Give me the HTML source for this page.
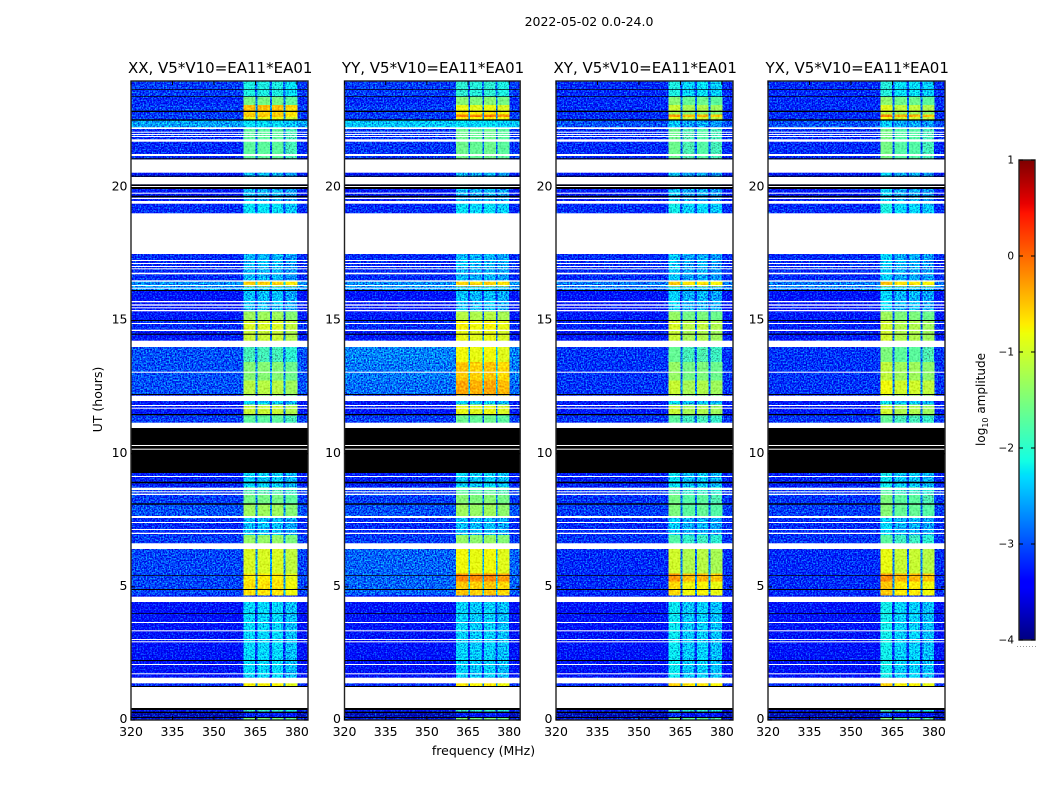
<!DOCTYPE html>
<html lang="en">
<head>
<meta charset="utf-8">
<title>2022-05-02 amplitude waterfall</title>
<style>
html,body{margin:0;padding:0;background:#fff;width:1050px;height:800px;overflow:hidden}
svg{display:block}
text{font-family:"DejaVu Sans","Liberation Sans",sans-serif;fill:#000}
</style>
</head>
<body>
<svg id="fig" xmlns="http://www.w3.org/2000/svg" width="1050" height="800" viewBox="0 0 1050 800">
  <defs>
    <filter id="speckle" x="0" y="0" width="100%" height="100%" color-interpolation-filters="sRGB">
      <feTurbulence type="fractalNoise" baseFrequency="0.65" numOctaves="2" seed="7" result="noise"/>
      <feColorMatrix in="noise" type="matrix" values="0 0 0 0.25 0.375  0 0 0 1.8 -0.4  0 0 0 0.7 0.15  0 0 0 0 1" result="grey"/>
      <feComposite in="SourceGraphic" in2="grey" operator="arithmetic" k1="0" k2="1" k3="1" k4="-0.5" result="mix"/>
      <feComposite in="mix" in2="SourceAlpha" operator="in"/>
    </filter>
    <filter id="speckle-soft" x="0" y="0" width="100%" height="100%" color-interpolation-filters="sRGB">
      <feTurbulence type="fractalNoise" baseFrequency="0.5" numOctaves="2" seed="11" result="noise"/>
      <feColorMatrix in="noise" type="matrix" values="0 0 0 0.3 0.35  0 0 0 0.6 0.2  0 0 0 0.3 0.35  0 0 0 0 1" result="grey"/>
      <feComposite in="SourceGraphic" in2="grey" operator="arithmetic" k1="0" k2="1" k3="1" k4="-0.5" result="mix"/>
      <feComposite in="mix" in2="SourceAlpha" operator="in"/>
    </filter>
  </defs>
  <text x="589" y="26" font-size="12.5" text-anchor="middle">2022-05-02 0.0-24.0</text>
  <text x="483.5" y="755" font-size="12.5" text-anchor="middle">frequency (MHz)</text>
  <text x="0" y="0" font-size="12.5" text-anchor="middle" transform="translate(102 399.5) rotate(-90)">UT (hours)</text>
  <text x="0" y="0" font-size="12" text-anchor="middle" transform="translate(985 399.5) rotate(-90)">log<tspan font-size="8" dy="3">10</tspan><tspan dy="-3"> amplitude</tspan></text>
  <g id="panels"></g>
  <g id="colorbar"></g>
</svg>
<script>
/* ---- axis values ---- */
const freqLimits = [320, 384];
const hourLimits = [0, 24];
const freqTicks = [320, 335, 350, 365, 380];
const hourTicks = [0, 5, 10, 15, 20];
const colorLimits = [-4, 1];
const colorTicks = [-4, -3, -2, -1, 0, 1];
const colorTickLabels = ['\u22124', '\u22123', '\u22122', '\u22121', '0', '1'];

/* ---- frequency channels (MHz) ---- */
const channelEdges = [320, 360.6, 364.9, 365.7, 370.1, 370.9, 375.0, 375.8, 380.0, 384];
const channelKinds = ['bg', 'sb0', 'gap', 'sb1', 'gap', 'sb2', 'gap', 'sb3', 'bg'];

/* ---- time bands (UT hours, upper edges then 0) ---- */
const bandEdges = [24, 23.4, 23.1, 22.85, 22.75, 22.65, 22.55, 22.25, 21, 19.5,
  19, 16.5, 16.3, 16.15, 15.35, 15, 14.65, 14.2, 13.45, 12.75,
  12.2, 11.85, 11.45, 10.95, 9.25, 8.75, 8.45, 8.1, 7.65, 6.95,
  6.45, 5.5, 5.2, 4.7, 4.45, 1.55, 1.25, 0.42, 0.31, 0.075, 0];

/* ---- log10 amplitude outside the spectral windows ---- */
const bgXX = [-3.1,-3.2,-3.1,-3.15,-3.1,-3.1,-2.6,-3.2,-3.3,-3.2,
  -3.2,-2.7,-2.7,-3.35,-3.3,-3.2,-3.3,-3.0,-3.0,-3.0,
  -3.3,-3.3,-3.1,-3.3,-3.25,-3.1,-3.1,-3.0,-3.2,-3.1,
  -3.05,-3.05,-3.05,-3.3,-3.35,-3.2,-3.2,-3.3,-3.75,-3.6];
const bgYY = [-3.1,-3.2,-3.1,-3.15,-3.1,-3.1,-2.4,-3.15,-3.3,-3.2,
  -3.2,-2.7,-2.7,-3.35,-3.3,-3.2,-3.3,-2.75,-2.8,-2.85,
  -3.3,-3.3,-3.1,-3.3,-3.25,-3.1,-3.1,-3.0,-3.2,-3.1,
  -2.9,-2.9,-2.9,-3.3,-3.35,-3.2,-3.2,-3.3,-3.75,-3.6];
const bgXY = [-3.2,-3.2,-3.2,-3.2,-3.2,-3.2,-3.0,-3.2,-3.3,-3.2,
  -3.2,-2.8,-2.8,-3.35,-3.3,-3.25,-3.3,-3.15,-3.15,-3.15,
  -3.3,-3.3,-3.15,-3.3,-3.25,-3.15,-3.15,-3.1,-3.2,-3.15,
  -3.2,-3.2,-3.2,-3.3,-3.35,-3.2,-3.2,-3.3,-3.75,-3.6];
const bgYX = [-3.2,-3.2,-3.2,-3.2,-3.2,-3.2,-3.0,-3.2,-3.3,-3.2,
  -3.2,-2.8,-2.8,-3.35,-3.3,-3.25,-3.3,-3.15,-3.15,-3.15,
  -3.3,-3.3,-3.15,-3.3,-3.25,-3.15,-3.15,-3.1,-3.2,-3.15,
  -3.2,-3.2,-3.2,-3.3,-3.35,-3.2,-3.2,-3.3,-3.75,-3.6];

/* ---- log10 amplitude inside the spectral windows ---- */
const winXX = [-2.15,-1.6,-0.5,-0.6,-0.55,-0.9,-2.3,-1.75,-2.55,-2.3,
  -2.55,-0.6,-2.4,-2.5,-1.35,-1.0,-1.1,-1.9,-1.5,-1.2,
  -2.4,-1.1,-1.75,-2.2,-2.4,-1.85,-1.6,-1.35,-2.5,-1.4,
  -1.0,-0.75,-0.7,-3.2,-2.35,-0.8,-2.55,-2.0,-3.3,-1.6];
const winYY = [-2.05,-1.5,-0.9,-0.75,-0.15,-0.75,-2.3,-1.65,-2.55,-2.3,
  -2.55,-0.6,-2.4,-2.5,-1.2,-0.8,-0.9,-0.85,-0.55,-0.38,
  -2.4,-0.9,-1.65,-2.2,-2.4,-1.75,-1.5,-1.35,-2.5,-1.4,
  -0.85,-0.2,-0.55,-3.2,-2.4,-0.75,-2.55,-2.0,-3.3,-1.6];
const winXY = [-2.25,-1.6,-1.2,-1.4,-0.4,-1.0,-2.55,-1.75,-2.55,-2.3,
  -2.55,-0.65,-2.4,-2.5,-1.5,-1.1,-1.2,-1.8,-1.5,-1.2,
  -2.4,-1.2,-1.85,-2.2,-2.4,-1.95,-1.7,-1.65,-2.5,-1.9,
  -1.15,-0.4,-0.75,-3.2,-2.35,-0.65,-2.55,-2.0,-3.3,-1.7];
const winYX = [-2.25,-1.6,-1.1,-1.3,-0.35,-1.0,-2.55,-1.75,-2.55,-2.3,
  -2.55,-0.65,-2.4,-2.5,-1.5,-1.2,-1.2,-1.7,-1.3,-1.0,
  -2.4,-1.2,-1.85,-2.2,-2.4,-1.95,-1.7,-1.65,-2.5,-1.9,
  -1.05,-0.4,-0.7,-3.2,-2.35,-0.75,-2.55,-2.0,-3.3,-1.7];

/* ---- per spectral-window offsets ---- */
const subbandXX = [0.05, 0.05, 0.05, -0.1];
const subbandYY = [0.05, 0, 0.05, -0.05];
const subbandXY = [0.15, -0.05, 0, -0.1];
const subbandYX = [0.2, 0, 0, -0.1];

/* ---- flagged time ranges [low hour, high hour] ---- */
const noSignalSpans = [[23.662,23.688],[23.411,23.437],[22.836,22.885],[22.509,22.561],[21.059,21.097],
  [20.406,20.443],[20.056,20.12],[19.944,20.019],[19.632,19.692],[16.113,16.15],[14.986,15.023],
  [14.471,14.509],[12.207,12.244],[11.444,11.493],[9.277,10.967],[8.89,8.95],[8.086,8.139],
  [5.42,5.446],[4.883,4.92],[3.981,4.008],[2.216,2.254],[1.239,1.277],[0.376,0.451],[0.263,0.312],[0.075,0.113]];
const blankSpans = [[22.197,22.261],[22.058,22.096],[21.972,22.009],[21.897,21.934],[21.72,21.81],
  [21.183,21.258],[20.556,21.052],[20.12,20.394],[20.019,20.056],[19.767,19.805],[19.568,19.617],
  [19.392,19.493],[17.502,19.031],[17.239,17.277],[17.127,17.164],[17.014,17.052],[16.928,16.965],
  [16.74,16.8],[16.462,16.514],[16.3,16.338],[16.199,16.237],[15.688,15.737],[15.561,15.613],
  [15.463,15.5],[15.35,15.399],[14.873,14.911],[14.61,14.659],[14.009,14.246],[13.044,13.082],
  [11.981,12.18],[11.793,11.831],[11.692,11.73],[10.967,11.166],[10.291,10.329],[10.152,10.19],
  [9.127,9.164],[8.638,8.725],[8.552,8.59],[8.451,8.5],[7.587,7.662],[7.399,7.437],[7.136,7.174],
  [6.986,7.035],[6.423,6.637],[4.432,4.631],[3.643,3.681],[3.331,3.369],[3.005,3.042],[2.918,2.956],
  [2.066,2.103],[1.716,1.754],[1.378,1.589],[0.451,1.239]];

/* ---- panels ---- */
const panelTitles = ['XX, V5*V10=EA11*EA01', 'YY, V5*V10=EA11*EA01', 'XY, V5*V10=EA11*EA01', 'YX, V5*V10=EA11*EA01'];
const panelLefts = [131, 344.5, 556, 768];
const panelWidths = [177, 175.7, 177, 177];
const panelTop = 81;
const panelBottom = 720;
const panelBg = [bgXX, bgYY, bgXY, bgYX];
const panelWin = [winXX, winYY, winXY, winYX];
const panelSub = [subbandXX, subbandYY, subbandXY, subbandYX];

const NS = 'http://www.w3.org/2000/svg';
function mk(tag, parent) {
  const el = document.createElementNS(NS, tag);
  parent.appendChild(el);
  return el;
}
function lerpStops(stops, t) {
  for (let i = 1; i < stops.length; i++) {
    if (t <= stops[i][0]) {
      const a = stops[i - 1], b = stops[i];
      return a[1] + (b[1] - a[1]) * (t - a[0]) / (b[0] - a[0]);
    }
  }
  return stops[stops.length - 1][1];
}
const jetR = [[0,0],[0.35,0],[0.66,1],[0.89,1],[1,0.5]];
const jetG = [[0,0],[0.125,0],[0.375,1],[0.64,1],[0.91,0],[1,0]];
const jetB = [[0,0.5],[0.11,1],[0.34,1],[0.65,0],[1,0]];
function colorOf(level) {
  let t = (level - colorLimits[0]) / (colorLimits[1] - colorLimits[0]);
  t = Math.max(0, Math.min(1, t));
  const c = [jetR, jetG, jetB].map(s => Math.round(255 * lerpStops(s, t)));
  return 'rgb(' + c.join(',') + ')';
}
function xAxis(left, width, f) {
  return left + (f - freqLimits[0]) / (freqLimits[1] - freqLimits[0]) * width;
}
function yAxis(h) {
  return panelBottom - (h - hourLimits[0]) / (hourLimits[1] - hourLimits[0]) * (panelBottom - panelTop);
}
function levelFor(kind, bg, win, sub) {
  if (kind === 'bg') return bg;
  if (kind === 'gap') return bg + (win - bg) * 0.18;
  return win + sub[Number(kind.slice(2))];
}

const panelsRoot = document.getElementById('panels');
panelTitles.forEach(function (title, p) {
  const left = panelLefts[p];
  const panelWidth = panelWidths[p];
  const panel = mk('g', panelsRoot);
  
  

  const cells = mk('g', panel);
  
  
  cells.setAttribute('filter', 'url(#speckle)');
  cells.setAttribute('shape-rendering', 'crispEdges');
  const brightCells = mk('g', panel);
  
  
  brightCells.setAttribute('filter', 'url(#speckle-soft)');
  brightCells.setAttribute('shape-rendering', 'crispEdges');
  for (let b = 0; b < bandEdges.length - 1; b++) {
    for (let c = 0; c < channelKinds.length; c++) {
      const level = levelFor(channelKinds[c], panelBg[p][b], panelWin[p][b], panelSub[p]);
      const r = mk('rect', level > -1.8 ? brightCells : cells);
      
      
      const x0 = xAxis(left, panelWidth, channelEdges[c]), x1 = xAxis(left, panelWidth, channelEdges[c + 1]);
      const y0 = yAxis(bandEdges[b]), y1 = yAxis(bandEdges[b + 1]);
      r.setAttribute('x', x0);
      r.setAttribute('y', y0);
      r.setAttribute('width', x1 - x0 + 0.5);
      r.setAttribute('height', y1 - y0 + 0.5);
      r.setAttribute('fill', colorOf(level));
    }
  }

  [[noSignalSpans, '#000', 'no-signal-span'], [blankSpans, '#fff', 'flagged-span']].forEach(function (set) {
    const g = mk('g', panel);
    
    
    set[0].forEach(function (span) {
      const r = mk('rect', g);
      
      
      r.setAttribute('x', left);
      r.setAttribute('y', yAxis(span[1]));
      r.setAttribute('width', panelWidth);
      r.setAttribute('height', yAxis(span[0]) - yAxis(span[1]));
      r.setAttribute('fill', set[1]);
    });
  });

  const frame = mk('rect', panel);
  
  
  frame.setAttribute('x', left);
  frame.setAttribute('y', panelTop);
  frame.setAttribute('width', panelWidth);
  frame.setAttribute('height', panelBottom - panelTop);
  frame.setAttribute('fill', 'none');
  frame.setAttribute('stroke', '#222');
  frame.setAttribute('stroke-width', '1.4');

  const heading = mk('text', panel);
  
  
  heading.setAttribute('x', left + panelWidth / 2 + 0.7);
  heading.setAttribute('y', 73);
  heading.setAttribute('font-size', '15');
  heading.setAttribute('text-anchor', 'middle');
  heading.textContent = title;

  freqTicks.forEach(function (f) {
    const x = xAxis(left, panelWidth, f);
    [[panelBottom, panelBottom - 4], [panelTop, panelTop + 4]].forEach(function (e) {
      const t = mk('line', panel);
      
      
      t.setAttribute('x1', x);
      t.setAttribute('x2', x);
      t.setAttribute('y1', e[0]);
      t.setAttribute('y2', e[1]);
      t.setAttribute('stroke', '#000');
    });
    const label = mk('text', panel);
    
    
    label.setAttribute('x', x);
    label.setAttribute('y', 736);
    label.setAttribute('font-size', '12.5');
    label.setAttribute('text-anchor', 'middle');
    label.textContent = String(f);
  });

  hourTicks.forEach(function (h) {
    const y = yAxis(h);
    [[left, left + 4], [left + panelWidth, left + panelWidth - 4]].forEach(function (e) {
      const t = mk('line', panel);
      
      
      t.setAttribute('x1', e[0]);
      t.setAttribute('x2', e[1]);
      t.setAttribute('y1', y);
      t.setAttribute('y2', y);
      t.setAttribute('stroke', '#000');
    });
    const label = mk('text', panel);
    
    
    label.setAttribute('x', left - 3.5);
    label.setAttribute('y', y + 3);
    label.setAttribute('font-size', '12.5');
    label.setAttribute('text-anchor', 'end');
    label.textContent = String(h);
  });
});

/* ---- colorbar ---- */
const barRoot = document.getElementById('colorbar');
const barLeft = 1019, barWidth = 16, barTop = 160, barBottom = 640;
function barY(level) {
  return barBottom - (level - colorLimits[0]) / (colorLimits[1] - colorLimits[0]) * (barBottom - barTop);
}
const barSteps = 240;
for (let i = 0; i < barSteps; i++) {
  const lo = colorLimits[0] + (colorLimits[1] - colorLimits[0]) * i / barSteps;
  const hi = colorLimits[0] + (colorLimits[1] - colorLimits[0]) * (i + 1) / barSteps;
  const s = mk('rect', barRoot);
  
  
  s.setAttribute('x', barLeft);
  s.setAttribute('y', barY(hi));
  s.setAttribute('width', barWidth);
  s.setAttribute('height', barY(lo) - barY(hi) + 0.5);
  s.setAttribute('fill', colorOf((lo + hi) / 2));
}
const barFrame = mk('rect', barRoot);


barFrame.setAttribute('x', barLeft);
barFrame.setAttribute('y', barTop);
barFrame.setAttribute('width', barWidth);
barFrame.setAttribute('height', barBottom - barTop);
barFrame.setAttribute('fill', 'none');
barFrame.setAttribute('stroke', '#222');
barFrame.setAttribute('stroke-width', '1.4');
colorTicks.forEach(function (level, i) {
  const y = barY(level);
  [[barLeft, barLeft + 4], [barLeft + barWidth, barLeft + barWidth - 4]].forEach(function (e) {
    const t = mk('line', barRoot);
    
    
    t.setAttribute('x1', e[0]);
    t.setAttribute('x2', e[1]);
    t.setAttribute('y1', y);
    t.setAttribute('y2', y);
    t.setAttribute('stroke', '#000');
  });
  const label = mk('text', barRoot);
  
  
  label.setAttribute('x', barLeft - 5);
  label.setAttribute('y', y + 3.5);
  label.setAttribute('font-size', '10.5');
  label.setAttribute('text-anchor', 'end');
  label.textContent = colorTickLabels[i];
});
const dots = mk('line', barRoot);


dots.setAttribute('x1', 1017);
dots.setAttribute('x2', 1036);
dots.setAttribute('y1', 646.5);
dots.setAttribute('y2', 646.5);
dots.setAttribute('stroke', '#999');
dots.setAttribute('stroke-dasharray', '1 2');
</script>
</body>
</html>
